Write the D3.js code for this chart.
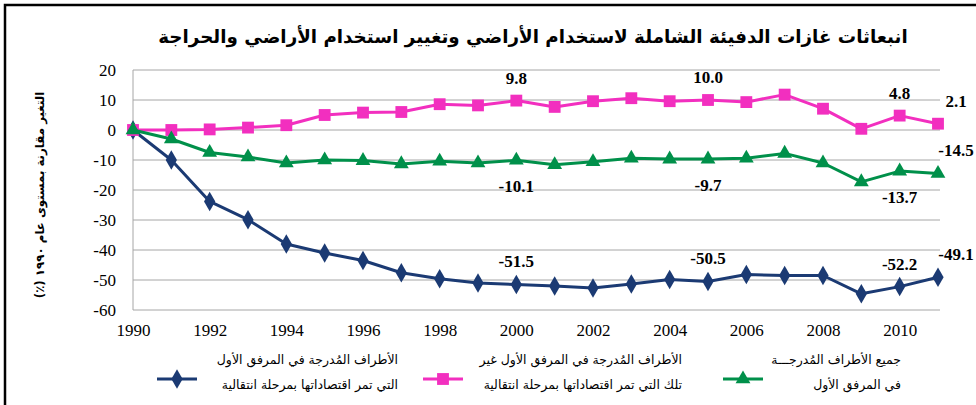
<!DOCTYPE html>
<html>
<head>
<meta charset="utf-8">
<script src="https://cdn.jsdelivr.net/npm/d3@7"></script>
<style>
  body { margin: 0; background: #fff; }
  svg { display: block; }
  .num { font-family: "Liberation Serif", "Times New Roman", serif; }
  .ar { font-family: "DejaVu Sans", sans-serif; }
</style>
</head>
<body>
<svg id="chart" width="976" height="405"></svg>
<script>
const years = [1990, 1991, 1992, 1993, 1994, 1995, 1996, 1997, 1998, 1999, 2000,
  2001, 2002, 2003, 2004, 2005, 2006, 2007, 2008, 2009, 2010, 2011];

// all Annex I parties
const allAnnex = [0, -3.0, -7.5, -9.0, -11.0, -10.0, -10.2, -11.3, -10.4, -11.0, -10.1,
  -11.6, -10.6, -9.4, -9.7, -9.7, -9.4, -7.8, -11.0, -17.3, -13.7, -14.5];
// Annex I parties, not economies in transition
const nonEit = [0, 0, 0.2, 0.8, 1.6, 5.0, 5.8, 6.0, 8.6, 8.2, 9.8,
  7.7, 9.6, 10.6, 9.6, 10.0, 9.3, 11.8, 7.1, 0.4, 4.8, 2.1];
// Annex I parties with economies in transition
const eit = [0, -10.0, -23.8, -29.9, -38.0, -41.0, -43.5, -47.6, -49.6, -51.0, -51.5,
  -52.0, -52.7, -51.3, -49.8, -50.5, -48.2, -48.5, -48.5, -54.6, -52.2, -49.1];

const yTicks = [20, 10, 0, -10, -20, -30, -40, -50, -60];
const xTicks = [1990, 1992, 1994, 1996, 1998, 2000, 2002, 2004, 2006, 2008, 2010];

const title = 'انبعاثات غازات الدفيئة الشاملة لاستخدام الأراضي وتغيير استخدام الأراضي والحراجة';
const yTitle = 'التغير مقارنة بمستوى عام ١٩٩٠ (٪)';

const series = [
  { key: 'eit', values: eit, color: '#1b3a73', symbol: d3.symbolDiamond,
    legend: ['الأطراف المُدرجة في المرفق الأول', 'التي تمر اقتصاداتها بمرحلة انتقالية'] },
  { key: 'nonEit', values: nonEit, color: '#f22fbf', symbol: d3.symbolSquare,
    legend: ['الأطراف المُدرجة في المرفق الأول غير', 'تلك التي تمر اقتصاداتها بمرحلة انتقالية'] },
  { key: 'all', values: allAnnex, color: '#00904a', symbol: d3.symbolTriangle,
    legend: ['جميع الأطراف المُدرجـــة', 'في المرفق الأول'] }
];

// which points carry a value label, and where
const valueLabels = [
  { key: 'nonEit', year: 2000, place: 'above' },
  { key: 'nonEit', year: 2005, place: 'above' },
  { key: 'nonEit', year: 2010, place: 'above' },
  { key: 'nonEit', year: 2011, place: 'aboveRight' },
  { key: 'all', year: 2000, place: 'below' },
  { key: 'all', year: 2005, place: 'below' },
  { key: 'all', year: 2010, place: 'below' },
  { key: 'all', year: 2011, place: 'aboveRight' },
  { key: 'eit', year: 2000, place: 'above' },
  { key: 'eit', year: 2005, place: 'above' },
  { key: 'eit', year: 2010, place: 'above' },
  { key: 'eit', year: 2011, place: 'aboveRight' }
];

const svg = d3.select('#chart');
const margin = { top: 70, right: 36, bottom: 95, left: 133 };
const width = 976, height = 405;

// plain hyphen instead of the unicode minus d3 uses
const fmtInt = d => d3.format('d')(d).replace('−', '-');
const fmtVal = d => d3.format('.1f')(d).replace('−', '-');

const x = d3.scaleLinear()
  .domain([1990, 2011])
  .range([margin.left, width - margin.right - 2]);

const y = d3.scaleLinear()
  .domain([-60, 20])
  .range([height - margin.bottom, margin.top]);

// outer frame (only top and left edges show)
svg.append('rect')
  .attr('x', 5).attr('y', 5)
  .attr('width', 1200).attr('height', 800)
  .attr('fill', 'none')
  .attr('stroke', '#000')
  .attr('stroke-width', 2.5);

// grid
svg.append('g')
  .selectAll('line')
  .data(yTicks)
  .join('line')
    .attr('x1', margin.left)
    .attr('x2', width - margin.right)
    .attr('y1', d => y(d))
    .attr('y2', d => y(d))
    .attr('stroke', '#a6a6a6')
    .attr('stroke-width', 1);

// left axis line
svg.append('line')
  .attr('x1', margin.left).attr('x2', margin.left)
  .attr('y1', y(20)).attr('y2', y(-60))
  .attr('stroke', '#a6a6a6');

// y axis
const yAxis = svg.append('g')
  .attr('transform', `translate(${margin.left},0)`)
  .call(d3.axisLeft(y).tickValues(yTicks).tickSize(0).tickPadding(17).tickFormat(fmtInt));
yAxis.select('.domain').remove();
yAxis.attr('font-family', null).attr('font-size', null);
yAxis.selectAll('text')
  .attr('class', 'num')
  .attr('font-size', 17)
  .attr('fill', '#000');

// x axis
const xAxis = svg.append('g')
  .attr('transform', `translate(0,${y(-60)})`)
  .call(d3.axisBottom(x).tickValues(xTicks).tickSize(0).tickPadding(14).tickFormat(fmtInt));
xAxis.select('.domain').remove();
xAxis.attr('font-family', null).attr('font-size', null);
xAxis.selectAll('text')
  .attr('class', 'num')
  .attr('font-size', 17)
  .attr('fill', '#000');

// title
svg.append('text')
  .attr('class', 'ar')
  .attr('x', 533)
  .attr('y', 38)
  .attr('text-anchor', 'middle')
  .attr('dominant-baseline', 'middle')
  .attr('direction', 'rtl')
  .attr('font-weight', 'bold')
  .attr('font-size', 18.3)
  .text(title);

// y axis title
svg.append('text')
  .attr('class', 'ar')
  .attr('transform', `translate(40,${y(-20) + 5}) rotate(-90)`)
  .attr('text-anchor', 'middle')
  .attr('dominant-baseline', 'middle')
  .attr('direction', 'rtl')
  .attr('font-weight', 'bold')
  .attr('font-size', 11.8)
  .text(yTitle);

// lines and markers
const line = d3.line()
  .x((d, i) => x(years[i]))
  .y(d => y(d));

const markerSize = { eit: 110, nonEit: 140, all: 95 };

series.forEach(s => {
  const g = svg.append('g');
  g.append('path')
    .datum(s.values)
    .attr('fill', 'none')
    .attr('stroke', s.color)
    .attr('stroke-width', 3)
    .attr('stroke-linejoin', 'round')
    .attr('d', line);
  g.selectAll('path.mark')
    .data(s.values)
    .join('path')
      .attr('class', 'mark')
      .attr('transform', (d, i) => `translate(${x(years[i])},${y(d)})`)
      .attr('d', d3.symbol().type(s.symbol).size(markerSize[s.key]))
      .attr('fill', s.color);
});

// value labels
const byKey = Object.fromEntries(series.map(s => [s.key, s]));
const placeOffset = {
  above: [0, -21],
  below: [0, 28],
  aboveRight: [18, -21]
};
svg.append('g')
  .selectAll('text')
  .data(valueLabels)
  .join('text')
    .attr('class', 'num')
    .attr('x', d => x(d.year) + placeOffset[d.place][0])
    .attr('y', d => y(byKey[d.key].values[years.indexOf(d.year)]) + placeOffset[d.place][1])
    .attr('text-anchor', 'middle')
    .attr('dominant-baseline', 'middle')
    .attr('font-weight', 'bold')
    .attr('font-size', 17)
    .text(d => fmtVal(byKey[d.key].values[years.indexOf(d.year)]));

// legend
const legendX = [157, 423, 723];
const legendTextX = [398, 682, 901];
const legend = svg.append('g');
series.forEach((s, i) => {
  const ly = 379;
  legend.append('line')
    .attr('x1', legendX[i]).attr('x2', legendX[i] + 40)
    .attr('y1', ly).attr('y2', ly)
    .attr('stroke', s.color)
    .attr('stroke-width', 3);
  legend.append('path')
    .attr('transform', `translate(${legendX[i] + 20},${ly})`)
    .attr('d', d3.symbol().type(s.symbol).size(markerSize[s.key]))
    .attr('fill', s.color);
  s.legend.forEach((t, j) => {
    legend.append('text')
      .attr('class', 'ar')
      .attr('x', legendTextX[i])
      .attr('y', 360 + j * 25)
      .attr('text-anchor', 'start')
      .attr('direction', 'rtl')
      .attr('dominant-baseline', 'middle')
      .attr('font-size', 12.5)
      .text(t);
  });
});
</script>
</body>
</html>
